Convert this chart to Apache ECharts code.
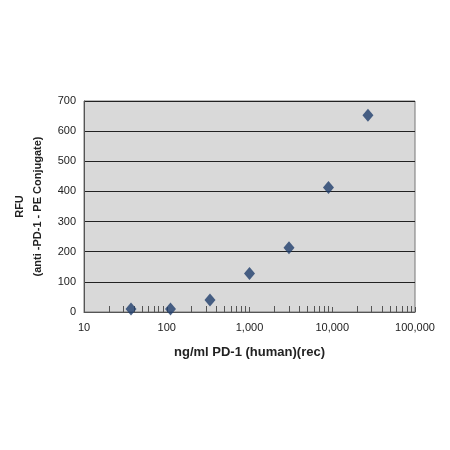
<!DOCTYPE html>
<html>
<head>
<meta charset="utf-8">
<script src="https://cdn.jsdelivr.net/npm/echarts@6/dist/echarts.min.js"></script>
<style>html,body{margin:0;padding:0;background:#fff}#c{width:450px;height:450px}</style>
</head>
<body>
<div id="c"></div>
<script>
var concentrations = [37, 111, 333, 1000, 3000, 9000, 27000];
var rfu = [10, 10, 40, 128, 213, 413, 653];

var chart = echarts.init(document.getElementById('c'));

var option = {
    animation: false,
    grid: {
        left: 84, right: 35, top: 101, bottom: 138,
        show: true, backgroundColor: '#d9d9d9', borderColor: '#777', borderWidth: 1
    },
    xAxis: {
        type: 'log', logBase: 10, min: 10, max: 100000,
        name: 'ng/ml PD-1 (human)(rec)', nameLocation: 'middle', nameGap: 34,
        nameTextStyle: { fontFamily: 'Liberation Sans', fontWeight: 'bold', fontSize: 13, color: '#222' },
        axisLine: { lineStyle: { color: '#555' } },
        axisTick: { show: true, inside: true, length: 5, lineStyle: { color: '#555' } },
        minorTick: { show: true, splitNumber: 9, length: 6, lineStyle: { color: '#555' } },
        axisLabel: { fontFamily: 'Liberation Sans', fontSize: 11, color: '#222', margin: 10 },
        splitLine: { show: false }
    },
    yAxis: {
        type: 'value', min: 0, max: 700, interval: 100,
        name: 'RFU\n(anti -PD-1 - PE Conjugate)', nameLocation: 'middle', nameGap: 34,
        nameTextStyle: { fontFamily: 'Liberation Sans', fontWeight: 'bold', fontSize: 11, color: '#222', lineHeight: 18 },
        axisLine: { show: true, lineStyle: { color: '#555' } },
        axisTick: { show: false },
        axisLabel: { fontFamily: 'Liberation Sans', fontSize: 11, color: '#222' },
        splitLine: { lineStyle: { color: '#222', width: 1 } }
    },
    series: [{
        type: 'scatter',
        symbol: 'diamond',
        symbolSize: [11, 13],
        itemStyle: { color: '#1f3d6b' },
        data: concentrations.map(function (c, i) { return [c, rfu[i]]; })
    }]
};

chart.setOption(option);
</script>
</body>
</html>
